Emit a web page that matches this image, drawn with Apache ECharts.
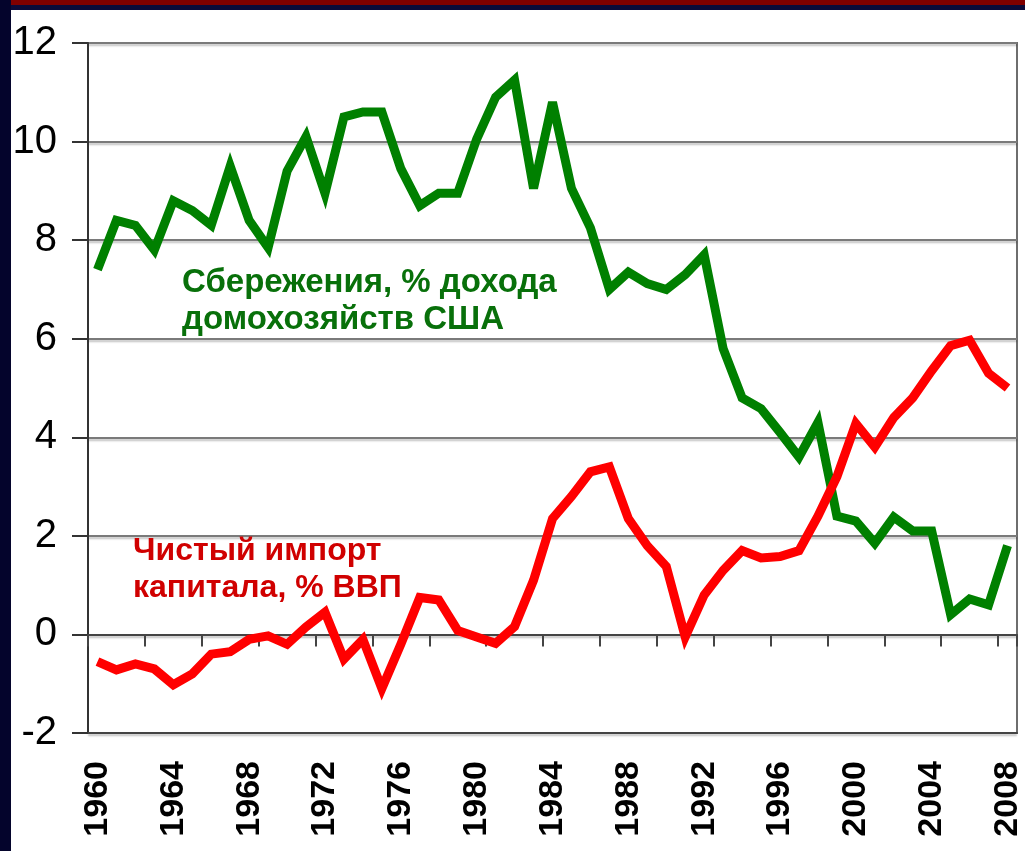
<!DOCTYPE html>
<html>
<head>
<meta charset="utf-8">
<script src="https://cdn.jsdelivr.net/npm/echarts@6/dist/echarts.min.js"></script>
<style>
html,body{margin:0;padding:0;background:#fff;}
#chart{width:1025px;height:851px;}
</style>
</head>
<body>
<div id="chart"></div>
<script>
const years = ['1960','1961','1962','1963','1964','1965','1966','1967','1968','1969',
  '1970','1971','1972','1973','1974','1975','1976','1977','1978','1979',
  '1980','1981','1982','1983','1984','1985','1986','1987','1988','1989',
  '1990','1991','1992','1993','1994','1995','1996','1997','1998','1999',
  '2000','2001','2002','2003','2004','2005','2006','2007','2008'];

const savings = [7.4, 8.4, 8.3, 7.8, 8.8, 8.6, 8.3, 9.5, 8.4, 7.85,
  9.4, 10.1, 8.95, 10.5, 10.6, 10.6, 9.45, 8.7, 8.95, 8.95,
  10.05, 10.9, 11.25, 9.05, 10.8, 9.05, 8.25, 7.0, 7.35, 7.12,
  7.0, 7.3, 7.7, 5.8, 4.8, 4.58, 4.1, 3.6, 4.3, 2.4,
  2.3, 1.85, 2.38, 2.1, 2.1, 0.4, 0.72, 0.6, 1.8];

const capital = [-0.55, -0.72, -0.6, -0.7, -1.02, -0.8, -0.4, -0.35, -0.1, -0.03,
  -0.2, 0.15, 0.45, -0.5, -0.1, -1.1, -0.2, 0.75, 0.7, 0.08,
  -0.05, -0.18, 0.16, 1.1, 2.35, 2.8, 3.3, 3.4, 2.35, 1.8,
  1.38, -0.05, 0.8, 1.3, 1.7, 1.55, 1.58, 1.7, 2.4, 3.2,
  4.28, 3.8, 4.4, 4.8, 5.35, 5.86, 5.97, 5.3, 5.0];

const yTicks = {min: -2, max: 12, step: 2};
const savingsLabel = 'Сбережения, % дохода\nдомохозяйств США';
const capitalLabel = 'Чистый импорт\nкапитала, % ВВП';

const chart = echarts.init(document.getElementById('chart'), null, {renderer: 'canvas'});
const axisColor = '#444';
const gridColor = '#7a7a7a';

chart.setOption({
  animation: false,
  backgroundColor: '#ffffff',
  grid: {left: 88, right: 8, top: 43, bottom: 118, show: true, borderColor: '#6e6e6e', borderWidth: 2, backgroundColor: 'transparent'},
  xAxis: [
    {
      type: 'category', data: years, position: 'bottom', boundaryGap: true,
      axisLine: {show: true, onZero: false, lineStyle: {color: axisColor, width: 2}},
      axisTick: {show: false},
      splitLine: {show: false},
      axisLabel: {interval: 3, rotate: 90, margin: 28, fontSize: 34, fontWeight: 'bold',
        fontFamily: '"Liberation Sans", Arial, sans-serif', color: '#000'}
    },
    {
      type: 'category', data: years, position: 'top', boundaryGap: true,
      axisLine: {show: true, onZero: true, lineStyle: {color: axisColor, width: 2}},
      axisTick: {show: true, interval: 2, inside: true, length: 12, lineStyle: {color: axisColor, width: 2}},
      axisLabel: {show: false},
      splitLine: {show: false}
    }
  ],
  yAxis: {
    type: 'value', min: yTicks.min, max: yTicks.max, interval: yTicks.step,
    axisLine: {show: true, lineStyle: {color: '#333', width: 2}},
    axisTick: {show: true, length: 16, lineStyle: {color: '#333', width: 2}},
    axisLabel: {fontSize: 40, fontFamily: '"Liberation Sans", Arial, sans-serif', color: '#000', margin: 31},
    splitLine: {show: true, lineStyle: {color: gridColor, width: 2, shadowColor: 'rgba(0,0,0,0.25)', shadowBlur: 2, shadowOffsetY: 2}}
  },
  series: [
    {
      name: 'savings', type: 'line', xAxisIndex: 0, data: savings,
      showSymbol: false, symbol: 'none', smooth: false,
      lineStyle: {color: '#008000', width: 9, join: 'miter', miterLimit: 4, cap: 'butt'},
      z: 3
    },
    {
      name: 'capital', type: 'line', xAxisIndex: 0, data: capital,
      showSymbol: false, symbol: 'none', smooth: false,
      lineStyle: {color: '#ff0000', width: 9, join: 'miter', miterLimit: 4, cap: 'butt'},
      z: 4
    }
  ],
  graphic: [
    {type: 'rect', left: 0, top: 0, silent: true, z: 100, shape: {width: 1025, height: 5}, style: {fill: '#800000'}},
    {type: 'rect', left: 0, top: 5, silent: true, z: 100, shape: {width: 1025, height: 5}, style: {fill: '#0b0b3a'}},
    {type: 'rect', left: 0, top: 0, silent: true, z: 101, shape: {width: 11, height: 851}, style: {fill: '#04042c'}},
    {type: 'text', left: 182, top: 264, silent: true, z: 50,
      style: {text: savingsLabel, fill: '#08700a', font: 'bold 33px "Liberation Sans", Arial, sans-serif', lineHeight: 37}},
    {type: 'text', left: 133, top: 533, silent: true, z: 50,
      style: {text: capitalLabel, fill: '#d00000', font: 'bold 32px "Liberation Sans", Arial, sans-serif', lineHeight: 37}}
  ]
});
</script>
</body>
</html>
